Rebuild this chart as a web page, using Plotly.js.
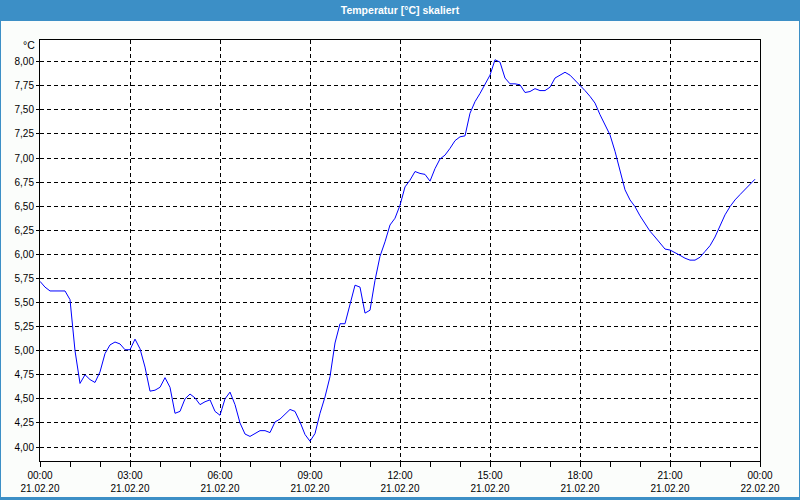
<!DOCTYPE html>
<html>
<head>
<meta charset="utf-8">
<script src="https://cdn.plot.ly/plotly-3.0.1.min.js"></script>
<style>
html,body{margin:0;padding:0;background:#3c8fc6;}
#chart{width:800px;height:500px;}
</style>
</head>
<body>
<div id="chart"></div>
<script>
// Temperature readings, one every 10 minutes from 21.02.20 00:00
const startDate = "2020-02-21";
const stepMinutes = 10;
const temperature = [
  5.72, 5.66, 5.62, 5.62, 5.62, 5.62, 5.53, 5.00, 4.66, 4.75,
  4.70, 4.67, 4.78, 4.97, 5.06, 5.09, 5.07, 5.01, 5.01, 5.12,
  5.02, 4.83, 4.58, 4.59, 4.62, 4.72, 4.62, 4.35, 4.37, 4.50,
  4.55, 4.51, 4.44, 4.47, 4.49, 4.37, 4.33, 4.50, 4.57, 4.44,
  4.25, 4.135, 4.11, 4.14, 4.17, 4.17, 4.15, 4.26, 4.29, 4.34,
  4.39, 4.37, 4.26, 4.13, 4.06, 4.14, 4.35, 4.52, 4.73, 5.08,
  5.28, 5.28, 5.49, 5.68, 5.66, 5.39, 5.42, 5.73, 5.98, 6.13,
  6.305, 6.375, 6.51, 6.70, 6.77, 6.86, 6.84, 6.83, 6.76, 6.89,
  6.99, 7.03, 7.10, 7.18, 7.22, 7.23, 7.465, 7.585, 7.67, 7.76,
  7.86, 8.02, 7.995, 7.83, 7.77, 7.77, 7.76, 7.68, 7.69, 7.72,
  7.70, 7.70, 7.735, 7.83, 7.86, 7.89, 7.86, 7.81, 7.76, 7.70,
  7.64, 7.57, 7.45, 7.34, 7.24, 7.07, 6.88, 6.67, 6.565, 6.495,
  6.40, 6.32, 6.24, 6.18, 6.12, 6.055, 6.045, 6.02, 5.99, 5.96,
  5.94, 5.94, 5.97, 6.03, 6.09, 6.18, 6.29, 6.41, 6.495, 6.565,
  6.62, 6.675, 6.73, 6.78
];
const xTickVals = [
  "2020-02-21 00:00", "2020-02-21 03:00", "2020-02-21 06:00", "2020-02-21 09:00",
  "2020-02-21 12:00", "2020-02-21 15:00", "2020-02-21 18:00", "2020-02-21 21:00",
  "2020-02-22 00:00"
];
const xTickText = [
  "00:00<br>21.02.20", "03:00<br>21.02.20", "06:00<br>21.02.20", "09:00<br>21.02.20",
  "12:00<br>21.02.20", "15:00<br>21.02.20", "18:00<br>21.02.20", "21:00<br>21.02.20",
  "00:00<br>22.02.20"
];
const yTickVals = [4.00, 4.25, 4.50, 4.75, 5.00, 5.25, 5.50, 5.75, 6.00, 6.25, 6.50, 6.75, 7.00, 7.25, 7.50, 7.75, 8.00];
const titleText = "Temperatur [°C] skaliert";
const unitText = "°C";

function pad(n){ return (n < 10 ? "0" : "") + n; }
const times = temperature.map((_, i) => {
  const m = i * stepMinutes;
  return startDate + " " + pad(Math.floor(m / 60)) + ":" + pad(m % 60);
});

const FONT = "Liberation Sans, Arial, sans-serif";
const W = 800, H = 500, L = 40, R = 40, T = 40, B = 39;
const pw = W - L - R, ph = H - T - B;
const px = p => (p - L) / pw;
const py = q => (H - B - q) / ph;

const trace = {
  x: times, y: temperature, type: "scatter", mode: "lines",
  line: {color: "#0000ff", width: 1}, hoverinfo: "skip"
};

const layout = {
  width: W, height: H,
  margin: {l: L, r: R, t: T, b: B, pad: 0},
  paper_bgcolor: "#3c8fc6",
  plot_bgcolor: "#ffffff",
  showlegend: false,
  separators: ",.",
  font: {family: FONT, size: 10, color: "#000000"},
  title: {
    text: "<b>" + titleText + "</b>",
    font: {family: FONT, size: 10.5, color: "#ffffff"},
    x: 0.5, xanchor: "center", y: 1 - 10 / H, yanchor: "middle", yref: "container"
  },
  xaxis: {
    type: "date",
    range: ["2020-02-21 00:00", "2020-02-22 00:00"],
    tickvals: xTickVals, ticktext: xTickText,
    ticks: "outside", ticklen: 5, tickcolor: "#000", tickwidth: 1,
    showline: true, linecolor: "#000", linewidth: 1, mirror: true,
    showgrid: true, gridcolor: "#000", gridwidth: 1, griddash: "4px,3px",
    zeroline: false,
    minor: {dtick: 3600000, ticks: "outside", ticklen: 5, tickcolor: "#000", tickwidth: 1, showgrid: false},
    tickfont: {family: FONT, size: 10, color: "#000"},
    fixedrange: true
  },
  yaxis: {
    range: [3.855, 8.225],
    tickvals: yTickVals, tickformat: ".2f",
    ticks: "outside", ticklen: 3, tickcolor: "#000", tickwidth: 1,
    showline: true, linecolor: "#000", linewidth: 1, mirror: true,
    showgrid: true, gridcolor: "#000", gridwidth: 1, griddash: "4px,3px",
    zeroline: false,
    tickfont: {family: FONT, size: 10, color: "#000"},
    fixedrange: true
  },
  shapes: [
    {type: "rect", xref: "paper", yref: "paper", layer: "below",
     x0: px(1), x1: px(799), y0: py(497), y1: py(21),
     fillcolor: "#fbfdfb", line: {width: 0}},
    {type: "rect", xref: "paper", yref: "paper", layer: "below",
     x0: 0, x1: 1, y0: 0, y1: 1,
     fillcolor: "#ffffff", line: {width: 0}}
  ],
  annotations: [
    {text: unitText, xref: "paper", yref: "paper", x: px(37), y: py(45),
     xanchor: "right", yanchor: "middle", showarrow: false,
     font: {family: FONT, size: 10.5, color: "#000"}}
  ]
};

Plotly.newPlot("chart", [trace], layout, {displayModeBar: false, staticPlot: true});
</script>
</body>
</html>
